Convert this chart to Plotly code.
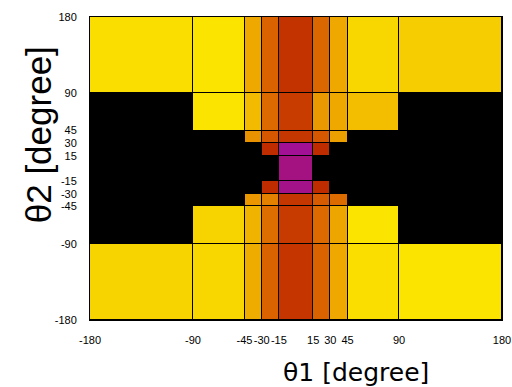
import math
import plotly.graph_objects as go

# bin edges (degrees)
theta1_edges = [-180, -90, -45, -30, -15, 15, 30, 45, 90, 180]
theta2_edges = [-180, -90, -45, -30, -15, 15, 30, 45, 90, 180]
tick_labels = ["-180", "-90", "-45", "-30", "-15", "15", "30", "45", "90", "180"]

# cell values (0..1 on gnuplot palette), rows from theta2=-180 (bottom) to 180 (top); None = empty (black)
row_m180_m90 = [0.94, 0.945, 0.875, 0.73, 0.59, 0.73, 0.87, 0.955, 0.965]
row_m90_m45  = [None, 0.94, 0.89, 0.755, 0.615, 0.745, 0.865, 0.965, None]
row_m45_m30  = [None, None, 0.84, 0.80, 0.60, 0.71, 0.75, None, None]
row_m30_m15  = [None, None, None, 0.555, 0.41, 0.555, None, None, None]
row_m15_15   = [None, None, None, None, 0.415, None, None, None, None]
row_15_30    = [None, None, None, 0.555, 0.40, 0.555, None, None, None]
row_30_45    = [None, None, 0.83, 0.70, 0.60, 0.70, 0.855, None, None]
row_45_90    = [None, 0.965, 0.90, 0.745, 0.62, 0.845, 0.87, 0.905, None]
row_90_180   = [0.955, 0.965, 0.87, 0.73, 0.585, 0.74, 0.87, 0.945, 0.93]

z = [row_m180_m90, row_m90_m45, row_m45_m30, row_m30_m15, row_m15_15,
     row_15_30, row_30_45, row_45_90, row_90_180]


def gnuplot_color(v):
    r = math.sqrt(v)
    g = v ** 3
    b = max(0.0, math.sin(2 * math.pi * v))
    return "rgb(%d,%d,%d)" % (round(r * 255), round(g * 255), round(b * 255))


n = 64
colorscale = [[i / (n - 1), gnuplot_color(i / (n - 1))] for i in range(n)]

fig = go.Figure(go.Heatmap(
    x=theta1_edges, y=theta2_edges, z=z,
    colorscale=colorscale, zmin=0, zmax=1, showscale=False,
    xgap=1, ygap=1, hoverongaps=False,
))

axis_common = dict(
    range=[-180, 180], tickmode="array", tickvals=theta1_edges, ticktext=tick_labels,
    showgrid=False, zeroline=False, showline=True, mirror=True,
    linecolor="black", linewidth=1, ticks="", tickangle=0, automargin=False,
    tickfont=dict(family="Liberation Sans, Arial", size=11, color="black"),
)
fig.update_xaxes(**axis_common, ticklabelstandoff=10)
fig.update_yaxes(**axis_common, ticklabelstandoff=10)

fig.update_layout(
    width=512, height=387,
    margin=dict(l=90, r=10, t=17, b=67),
    paper_bgcolor="white", plot_bgcolor="black",
    showlegend=False,
    annotations=[
        dict(text="θ1 [degree]", xref="paper", yref="paper", x=0.646, y=-0.172,
             xanchor="center", yanchor="middle", showarrow=False,
             font=dict(family="DejaVu Sans", size=25, color="black")),
        dict(text="θ2 [degree]", xref="paper", yref="paper", x=-0.126, y=0.61,
             xanchor="center", yanchor="middle", showarrow=False, textangle=-90,
             font=dict(family="Liberation Sans, Arial", size=35, color="black")),
    ],
)

fig.write_html("out.html")
